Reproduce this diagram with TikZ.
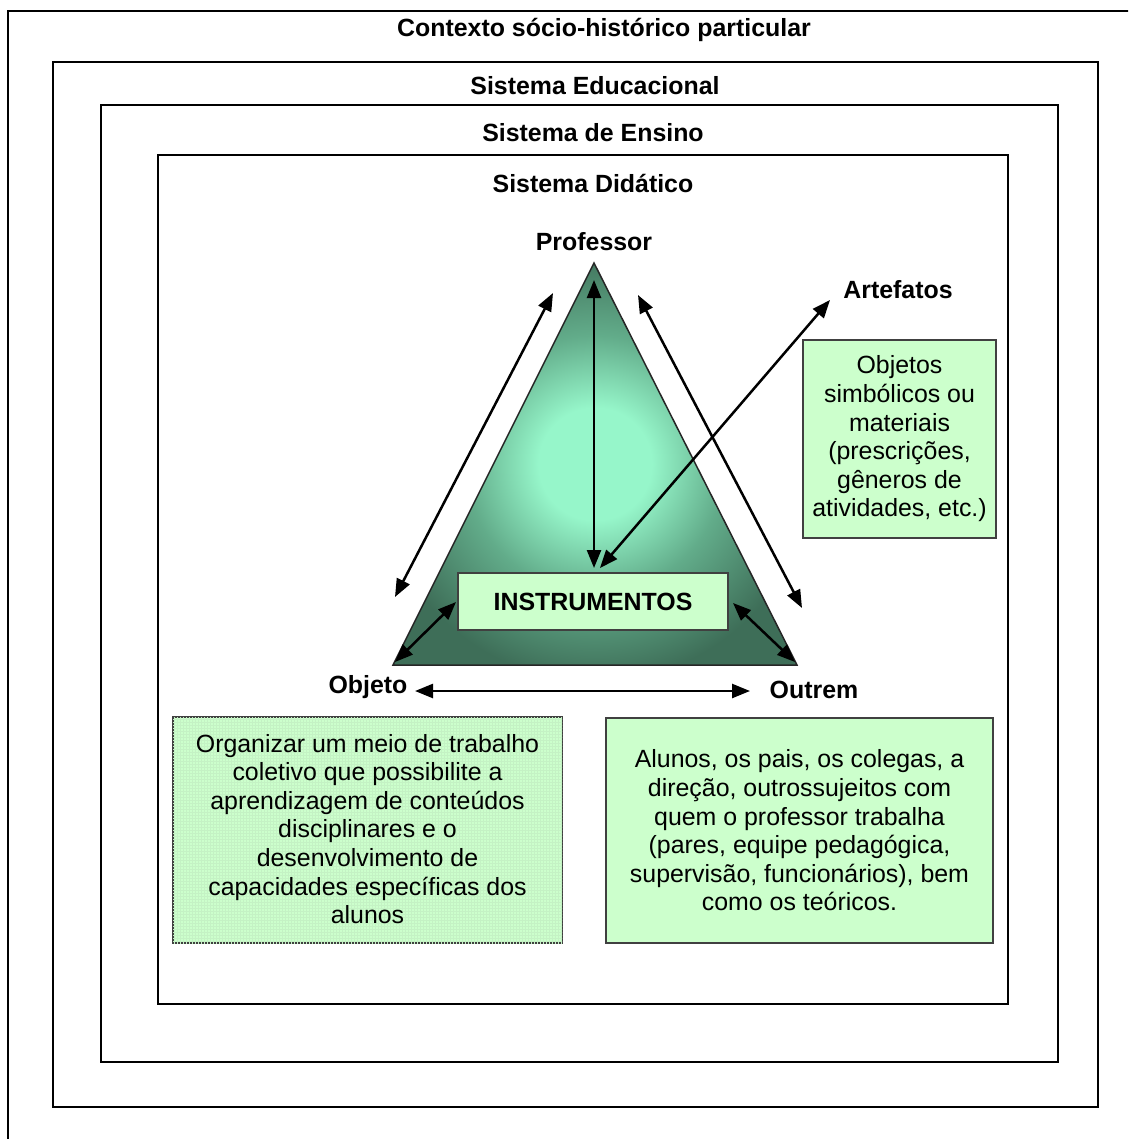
\documentclass[tikz,border=0pt]{standalone}
\usepackage{fontspec}
\setmainfont{Liberation Sans}
\usetikzlibrary{arrows.meta,patterns}
\definecolor{boxg}{RGB}{204,255,204}
\definecolor{gridg}{RGB}{196,242,196}
\definecolor{tc}{RGB}{150,246,202}
\definecolor{tm}{RGB}{98,172,138}
\definecolor{td}{RGB}{62,110,88}
\pgfdeclareradialshading{trishade}{\pgfpoint{0bp}{0bp}}{color(0bp)=(tc);color(7bp)=(tc);color(16bp)=(tm);color(27bp)=(td);color(50bp)=(td)}
\begin{document}
\begin{tikzpicture}[x=1pt,y=-1pt,
  font=\fontsize{24.9}{28.6}\selectfont,
  frame/.style={draw=black,line width=2pt},
  title/.style={font=\fontsize{24.9}{28.6}\selectfont\bfseries,inner sep=0pt},
  greenbox/.style={draw=black!75,line width=1.3pt,fill=boxg,align=center,inner sep=0pt},
  dbl/.style={line width=2.5pt,{Triangle[length=18pt,width=14pt]}-{Triangle[length=18pt,width=14pt]}}]
\clip (0,0) rectangle (1128,1139);
\fill[white] (0,0) rectangle (1128,1139);
% frames
\draw[frame] (1140,11) -- (8,11) -- (8,1150);
\draw[frame] (53,62) rectangle (1098,1107);
\draw[frame] (101,105) rectangle (1058,1062);
\draw[frame] (158,155) rectangle (1008,1004);
% titles
\node[title] (ctx) at (604,30) {Contexto sócio-histórico particular};
\node[title] (edu) at (595,86) {Sistema Educacional};
\node[title] (ens) at (593,133) {Sistema de Ensino};
\node[title] (did) at (593,183) {Sistema Didático};
% triangle
\coordinate (apex) at (594,263);
\coordinate (bl) at (393,665);
\coordinate (br) at (797,665);
\path[shading=trishade,draw=black!85,line width=1.5pt] (apex) -- (br) -- (bl) -- cycle;
% labels
\node[title] (prof) at (594,242) {Professor};
\node[title] (art) at (898,290) {Artefatos};
\node[title] (obj) at (368,687) {Objeto};
\node[title] (outr) at (814,690) {Outrem};
% boxes
\node[greenbox,minimum width=270pt,minimum height=57pt,font=\fontsize{24.9}{28.6}\selectfont\bfseries] (instr) at (593,601.5) {INSTRUMENTOS};
\node[greenbox,minimum width=193pt,minimum height=198pt] (objbox) at (899.5,439) {Objetos\\simbólicos ou\\materiais\\(prescrições,\\gêneros de\\atividades, etc.)};
\node[greenbox,minimum width=389pt,minimum height=226pt,postaction={pattern=grid,pattern color=gridg}] (leftbox) at (367.5,830) {};
\node[align=center,inner sep=0pt] (lefttext) at (367.5,829) {Organizar um meio de trabalho\\coletivo que possibilite a\\aprendizagem de conteúdos\\disciplinares e o\\desenvolvimento de\\capacidades específicas dos\\alunos};
\node[greenbox,minimum width=387pt,minimum height=225pt] (rightbox) at (799.5,830.5) {Alunos, os pais, os colegas, a\\direção, outrossujeitos com\\quem o professor trabalha\\(pares, equipe pedagógica,\\supervisão, funcionários), bem\\como os teóricos.};
% arrow end points
\coordinate (v1) at (594,280);
\coordinate (v2) at (594,568);
\coordinate (a1) at (830,300);
\coordinate (a2) at (600,568);
\coordinate (l1) at (553,293);
\coordinate (l2) at (395,597);
\coordinate (r1) at (638,295);
\coordinate (r2) at (802,608);
\coordinate (sl1) at (395,662);
\coordinate (sl2) at (456,602);
\coordinate (sr1) at (733,603);
\coordinate (sr2) at (795,662);
\coordinate (h1) at (415,691);
\coordinate (h2) at (750,691);
\draw[dbl] (v1) -- (v2);
\draw[dbl] (a1) -- (a2);
\draw[dbl] (l1) -- (l2);
\draw[dbl] (r1) -- (r2);
\draw[dbl] (sl1) -- (sl2);
\draw[dbl] (sr1) -- (sr2);
\draw[dbl] (h1) -- (h2);
\end{tikzpicture}
\end{document}
